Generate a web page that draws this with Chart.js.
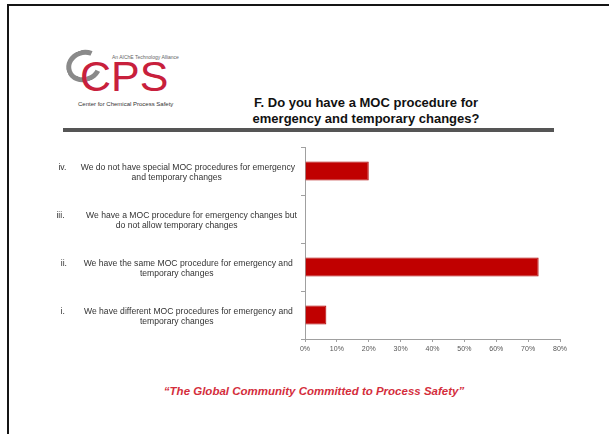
<!DOCTYPE html>
<html lang="en">
<head>
    <meta charset="UTF-8">
    <title>F. Do you have a MOC procedure for emergency and temporary changes?</title>
    <style>
        html, body {
            margin: 0;
            overflow: hidden;
            background-color: #ffffff;
            font-family: "Liberation Sans", Arial, sans-serif;
        }
        .slide {
            position: relative;
            width: 609px;
            height: 434px;
            overflow: hidden;
            background: #ffffff;
        }
        .edge-top {
            position: absolute;
            left: 7px;
            right: 0;
            top: 4px;
            height: 2px;
            background: #151515;
        }
        .edge-left {
            position: absolute;
            left: 7px;
            width: 2px;
            top: 4px;
            bottom: 0;
            background: #151515;
        }
        /* logo */
        .logo-ring {
            position: absolute;
            left: 66px;
            top: 50px;
            width: 26px;
            height: 22px;
            border: 5px solid #8a8a8a;
            border-right-color: transparent;
            border-radius: 50%;
            transform: rotate(-20deg);
        }
        .logo-cps {
            position: absolute;
            left: 80px;
            top: 55px;
            font-size: 43px;
            line-height: 43px;
            color: #c8203c;
        }
        .logo-top {
            position: absolute;
            left: 112px;
            top: 54px;
            font-size: 5px;
            color: #666;
        }
        .logo-bottom {
            position: absolute;
            left: 78px;
            top: 101px;
            font-size: 6px;
            color: #333;
        }
        .title {
            position: absolute;
            left: 216px;
            width: 300px;
            top: 95px;
            text-align: center;
            font-size: 13px;
            font-weight: bold;
            line-height: 16px;
            color: #111;
        }
        .rule {
            position: absolute;
            left: 63px;
            width: 491px;
            top: 128px;
            height: 4px;
            background: #555;
        }
        #chartBox {
            position: absolute;
            left: 40px;
            top: 140px;
            width: 540px;
            height: 220px;
        }
        .footer {
            position: absolute;
            left: 60px;
            width: 508px;
            top: 385px;
            text-align: center;
            font-size: 11.5px;
            font-weight: bold;
            font-style: italic;
            color: #d42e3c;
        }
    </style>
    <script src="https://cdn.jsdelivr.net/npm/chart.js"></script>
</head>
<body>
<div class="slide">
    <div class="edge-top"></div>
    <div class="edge-left"></div>

    <div class="logo-ring"></div>
    <div class="logo-cps">CPS</div>
    <div class="logo-top">An AIChE Technology Alliance</div>
    <div class="logo-bottom">Center for Chemical Process Safety</div>

    <div class="title">F. Do you have a MOC procedure for<br>emergency and temporary changes?</div>
    <div class="rule"></div>

    <div id="chartBox">
        <canvas id="mocChart"></canvas>
    </div>

    <div class="footer">“The Global Community Committed to Process Safety”</div>
</div>

<script>
    // answer options, top to bottom (each one split into two lines)
    const answers = [
        ["iv.      We do not have special MOC procedures for emergency", "and temporary changes"],
        ["iii.         We have a MOC procedure for emergency changes but", "do not allow temporary changes"],
        ["ii.       We have the same MOC procedure for emergency and", "temporary changes"],
        ["i.        We have different MOC procedures for emergency and", "temporary changes"]
    ];
    // share of respondents, %
    const shares = [20, 0, 73.3, 6.7];
    // x axis ticks, %
    const pctTicks = [0, 10, 20, 30, 40, 50, 60, 70, 80];

    const axisGray = '#a0a0a0';

    new Chart(document.getElementById('mocChart'), {
        type: 'bar',
        data: {
            labels: answers,
            datasets: [{
                data: shares,
                backgroundColor: '#c00000',
                borderColor: '#b00000',
                borderWidth: 1,
                barPercentage: 0.4,
                categoryPercentage: 1
            }]
        },
        options: {
            indexAxis: 'y',
            responsive: true,
            maintainAspectRatio: false,
            animation: false,
            layout: {
                padding: { left: 0, right: 20, top: 7, bottom: 0 }
            },
            plugins: {
                legend: { display: false },
                tooltip: { enabled: false }
            },
            scales: {
                x: {
                    min: 0,
                    max: 80,
                    afterBuildTicks: (scale) => {
                        scale.ticks = pctTicks.map(v => ({ value: v }));
                    },
                    afterFit: (scale) => {
                        scale.height = 21;
                    },
                    border: { color: axisGray, width: 1 },
                    grid: {
                        drawOnChartArea: false,
                        drawTicks: true,
                        tickLength: 3,
                        color: axisGray
                    },
                    ticks: {
                        padding: 3,
                        color: '#555',
                        font: { family: '"Liberation Sans", Arial, sans-serif', size: 7 },
                        callback: (v) => v + '%'
                    }
                },
                y: {
                    afterFit: (scale) => {
                        scale.width = 265;
                        scale.paddingTop = 0;
                        scale.paddingBottom = 0;
                    },
                    border: { color: axisGray, width: 1 },
                    grid: {
                        drawOnChartArea: false,
                        drawTicks: true,
                        tickLength: 4,
                        color: axisGray
                    },
                    ticks: {
                        crossAlign: 'center',
                        padding: 4,
                        labelOffset: 2,
                        color: '#333',
                        font: { family: '"Liberation Sans", Arial, sans-serif', size: 8.6, lineHeight: 1.15 }
                    }
                }
            }
        }
    });
</script>
</body>
</html>
